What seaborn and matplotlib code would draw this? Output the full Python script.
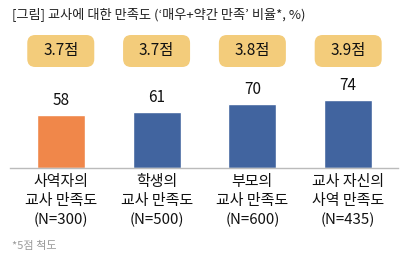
import matplotlib
matplotlib.use("Agg")
import matplotlib.pyplot as plt
import seaborn as sns
import pandas as pd
from matplotlib.patches import FancyBboxPatch
from matplotlib.transforms import IdentityTransform

# data
categories = ["사역자의\n교사 만족도\n(N=300)",
              "학생의\n교사 만족도\n(N=500)",
              "부모의\n교사 만족도\n(N=600)",
              "교사 자신의\n사역 만족도\n(N=435)"]
satisfied_pct = [58, 61, 70, 74]
mean_scores = ["3.7점", "3.7점", "3.8점", "3.9점"]
groups = ["other", "self", "self", "self"]

ORANGE = "#F0874A"
BLUE = "#41649F"
PILL = "#F3CC7B"

sns.set_theme(style="white")
plt.rcParams["font.family"] = ["Noto Sans CJK KR", "DejaVu Sans"]

df = pd.DataFrame({"cat": categories, "pct": satisfied_pct, "grp": groups})

fig = plt.figure(figsize=(4.13, 2.62), dpi=100)
ax = fig.add_axes([10 / 413, 94 / 262, 388 / 413, 138 / 262])

sns.barplot(data=df, x="cat", y="pct", hue="grp",
            palette={"other": ORANGE, "self": BLUE},
            dodge=False, legend=False, width=0.5, saturation=1, ax=ax)

ax.set_xlim(-0.53, 3.52)
ax.set_ylim(0, 150)
ax.set_xlabel("")
ax.set_ylabel("")
ax.set_yticks([])
for s in ["top", "left", "right"]:
    ax.spines[s].set_visible(False)
ax.spines["bottom"].set_color("#BBBBBB")
ax.spines["bottom"].set_linewidth(1.0)
ax.tick_params(axis="x", length=0, pad=5, labelsize=10.8, colors="#111111")
for lbl in ax.get_xticklabels():
    lbl.set_linespacing(1.45)

for c in ax.containers:
    ax.bar_label(c, padding=4, fontsize=11, color="#111111")

fig.text(12 / 413, 1 - 14 / 262, "[그림] 교사에 대한 만족도 (‘매우+약간 만족’ 비율*, %)",
         fontsize=9.5, color="#222222", va="center", ha="left")
fig.text(12 / 413, 1 - 246 / 262, "*5점 척도", fontsize=8, color="#9A9A9A",
         va="center", ha="left")

# score pills above each bar
fig.canvas.draw()
pill_w, pill_h = 67, 32
pill_y = 262 - 51
for i, score in enumerate(mean_scores):
    cx = ax.transData.transform((i, 0))[0]
    p = FancyBboxPatch((cx - pill_w / 2, pill_y - pill_h / 2), pill_w, pill_h,
                       boxstyle="round,pad=0,rounding_size=8",
                       facecolor=PILL, edgecolor="none",
                       transform=IdentityTransform(), figure=fig)
    fig.patches.append(p)
    fig.text(cx / 413, pill_y / 262, score, fontsize=11, color="#111111",
             ha="center", va="center")

fig.savefig("out.png", dpi=100)
